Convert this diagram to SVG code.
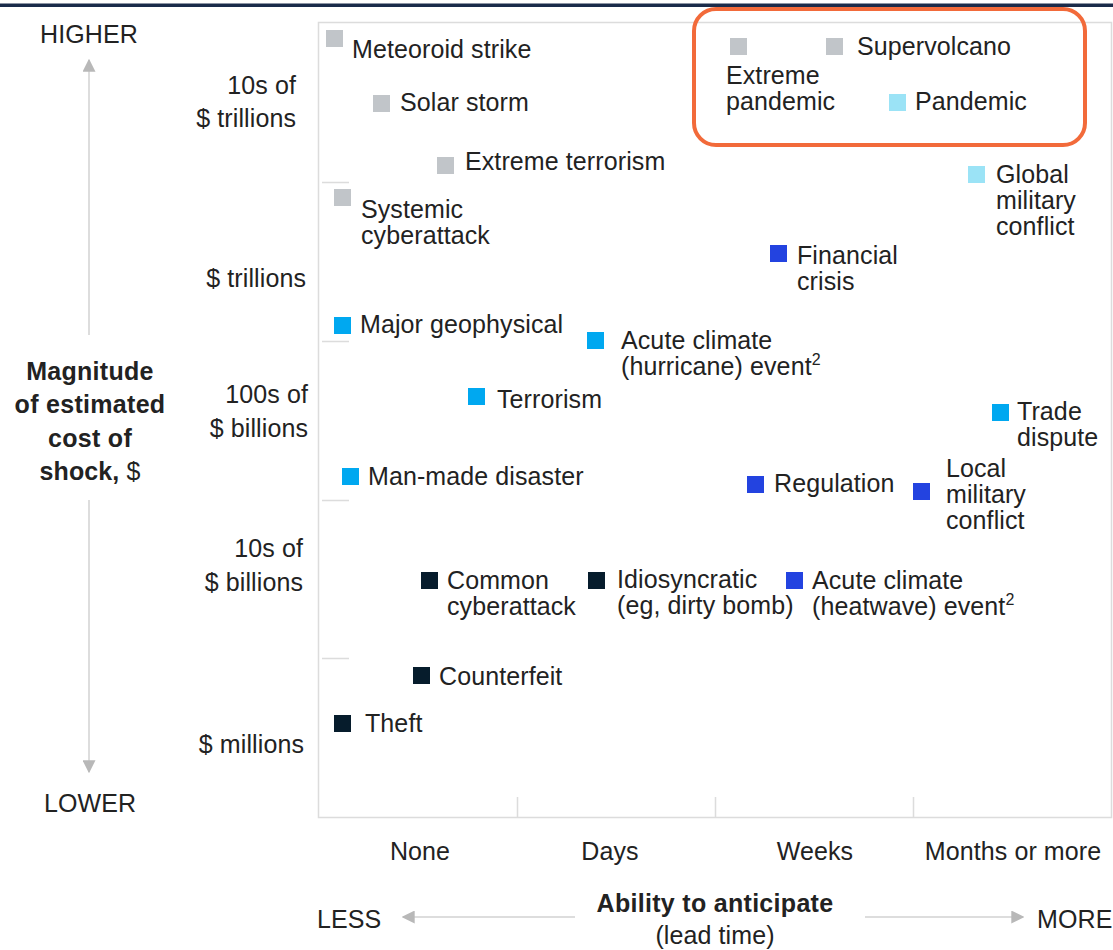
<svg xmlns="http://www.w3.org/2000/svg" width="1113" height="950" viewBox="0 0 1113 950">
<defs>
<style>
text{font-family:"Liberation Sans",Arial,sans-serif;font-size:25px;letter-spacing:0.1px;fill:#222;}
.b{font-weight:bold;letter-spacing:0.3px;}
.r{text-anchor:end;}
.c{text-anchor:middle;}
.grid{stroke:#dcdcdc;stroke-width:1.5;fill:none;}
.ax{stroke:#d2d2d2;stroke-width:1.5;fill:none;}
.g{fill:#c1c5c9;}
.lc{fill:#9be3f6;}
.mc{fill:#00a8f0;}
.bl{fill:#2343e0;}
.nv{fill:#061c2c;}
.sup{font-size:16px;}
</style>
<marker id="ah" viewBox="0 0 10 10" refX="9" refY="5" markerWidth="13" markerHeight="13" markerUnits="userSpaceOnUse" orient="auto">
<path d="M0,0 L10,5 L0,10 z" fill="#b8b8b8"/>
</marker>
</defs>
<rect width="1113" height="950" fill="#fff"/>
<rect x="0" y="3.5" width="1113" height="3.5" fill="#1a2b4a"/>

<g id="frame">
<path class="grid" d="M318.5,22.5 H1111.5 V817.5 H318.5 Z"/>
<path class="grid" d="M322,182.5 H349 M322,341.5 H349 M322,500.5 H349 M322,658.5 H349"/>
<path class="grid" d="M517.5,797 V817 M715.5,797 V817 M913.5,797 V817"/>
</g>

<g id="axes">
<line class="ax" x1="89" y1="335" x2="89" y2="60" marker-end="url(#ah)"/>
<line class="ax" x1="89" y1="500" x2="89" y2="772" marker-end="url(#ah)"/>
<line class="ax" x1="575" y1="917" x2="403" y2="917" marker-end="url(#ah)"/>
<line class="ax" x1="865" y1="917" x2="1023" y2="917" marker-end="url(#ah)"/>
<text class="c" x="89" y="43">HIGHER</text>
<text class="c" x="90" y="812">LOWER</text>
<text class="c b" x="90" y="380">Magnitude</text>
<text class="c b" x="90" y="413">of estimated</text>
<text class="c b" x="90" y="447">cost of</text>
<text class="c" x="90" y="480"><tspan font-weight="bold">shock,</tspan> $</text>
<text class="r" x="296" y="94">10s of</text>
<text class="r" x="296" y="127">$ trillions</text>
<text class="r" x="306" y="287">$ trillions</text>
<text class="r" x="308" y="403">100s of</text>
<text class="r" x="308" y="437">$ billions</text>
<text class="r" x="303" y="557">10s of</text>
<text class="r" x="303" y="591">$ billions</text>
<text class="r" x="304" y="753">$ millions</text>
<text class="c" x="420" y="860">None</text>
<text class="c" x="610" y="860">Days</text>
<text class="c" x="815" y="860">Weeks</text>
<text class="c" x="1013" y="860">Months or more</text>
<text class="c b" x="715" y="912">Ability to anticipate</text>
<text class="c" x="715" y="944">(lead time)</text>
<text x="317" y="928">LESS</text>
<text x="1037" y="928">MORE</text>
</g>

<g id="highlight">
<rect x="694" y="9" width="391" height="136" rx="22" fill="none" stroke="#f26a3a" stroke-width="4"/>
</g>

<g id="connectors"></g>

<g id="n-meteoroid"><rect class="g" x="326" y="30" width="17" height="17"/><text x="352" y="58">Meteoroid strike</text></g>
<g id="n-solar"><rect class="g" x="373" y="95" width="17" height="17"/><text x="400" y="111">Solar storm</text></g>
<g id="n-extreme-terrorism"><rect class="g" x="437" y="157" width="17" height="17"/><text x="465" y="170">Extreme terrorism</text></g>
<g id="n-systemic"><rect class="g" x="334" y="189" width="17" height="17"/><text x="361" y="218">Systemic</text><text x="361" y="244">cyberattack</text></g>
<g id="n-extreme-pandemic"><rect class="g" x="730" y="38" width="17" height="17"/><text x="726" y="84">Extreme</text><text x="726" y="110">pandemic</text></g>
<g id="n-supervolcano"><rect class="g" x="826" y="38" width="17" height="17"/><text x="857" y="55">Supervolcano</text></g>
<g id="n-pandemic"><rect class="lc" x="889" y="94" width="17" height="17"/><text x="915" y="110">Pandemic</text></g>
<g id="n-global"><rect class="lc" x="968" y="166" width="17" height="17"/><text x="996" y="183">Global</text><text x="996" y="209">military</text><text x="996" y="235">conflict</text></g>
<g id="n-financial"><rect class="bl" x="770" y="245" width="17" height="17"/><text x="797" y="264">Financial</text><text x="797" y="290">crisis</text></g>
<g id="n-geophysical"><rect class="mc" x="334" y="317" width="17" height="17"/><text x="360" y="333">Major geophysical</text></g>
<g id="n-hurricane"><rect class="mc" x="587" y="332" width="17" height="17"/><text x="621" y="349">Acute climate</text><text x="621" y="375">(hurricane) event<tspan class="sup" dy="-10">2</tspan></text></g>
<g id="n-terrorism"><rect class="mc" x="468" y="388" width="17" height="17"/><text x="497" y="408">Terrorism</text></g>
<g id="n-manmade"><rect class="mc" x="342" y="468" width="17" height="17"/><text x="368" y="485">Man-made disaster</text></g>
<g id="n-trade"><rect class="mc" x="992" y="404" width="17" height="17"/><text x="1017" y="420">Trade</text><text x="1017" y="446">dispute</text></g>
<g id="n-regulation"><rect class="bl" x="747" y="476" width="17" height="17"/><text x="774" y="492">Regulation</text></g>
<g id="n-local"><rect class="bl" x="913" y="483" width="17" height="17"/><text x="946" y="477">Local</text><text x="946" y="503">military</text><text x="946" y="529">conflict</text></g>
<g id="n-common"><rect class="nv" x="421" y="572" width="17" height="17"/><text x="447" y="589">Common</text><text x="447" y="615">cyberattack</text></g>
<g id="n-idiosyncratic"><rect class="nv" x="588" y="572" width="17" height="17"/><text x="617" y="588">Idiosyncratic</text><text x="617" y="614">(eg, dirty bomb)</text></g>
<g id="n-heatwave"><rect class="bl" x="786" y="572" width="17" height="17"/><text x="812" y="589">Acute climate</text><text x="812" y="615">(heatwave) event<tspan class="sup" dy="-10">2</tspan></text></g>
<g id="n-counterfeit"><rect class="nv" x="413" y="667" width="17" height="17"/><text x="439" y="685">Counterfeit</text></g>
<g id="n-theft"><rect class="nv" x="334" y="715" width="17" height="17"/><text x="365" y="732">Theft</text></g>
</svg>
